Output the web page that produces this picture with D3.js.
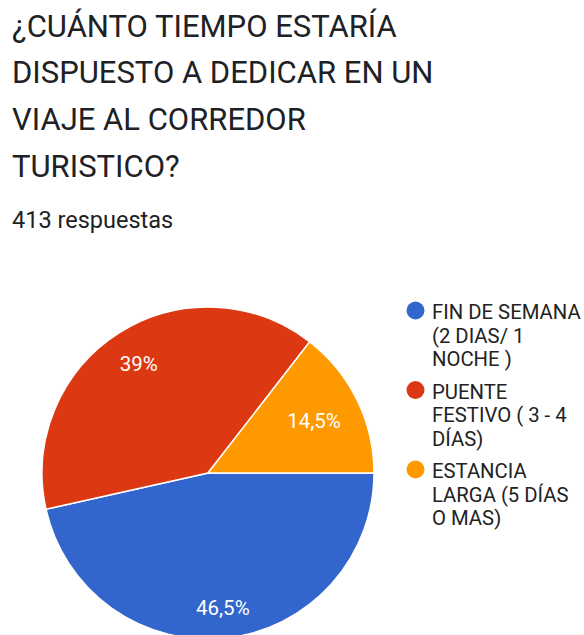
<!DOCTYPE html>
<html>
<head>
<meta charset="utf-8">
<script src="https://cdn.jsdelivr.net/npm/d3@7"></script>
<style>
  html, body { margin: 0; padding: 0; background: #fff; }
  svg { display: block; font-family: Roboto, "Noto Sans", Arial, sans-serif; }
</style>
</head>
<body>
<svg id="chart" width="584" height="635"></svg>
<script>
// Survey question and answer data
const titleLines = [
  "¿CUÁNTO TIEMPO ESTARÍA",
  "DISPUESTO A DEDICAR EN UN",
  "VIAJE AL CORREDOR",
  "TURISTICO?"
];
const responseCount = "413 respuestas";
const categories = [
  ["FIN DE SEMANA", "(2 DIAS/ 1", "NOCHE )"],
  ["PUENTE", "FESTIVO ( 3 - 4", "DÍAS)"],
  ["ESTANCIA", "LARGA (5 DÍAS", "O MAS)"]
];
const values = [46.5, 39, 14.5];
const sliceLabels = ["46,5%", "39%", "14,5%"];
const colors = ["#3366cc", "#dc3912", "#ff9900"];

const svg = d3.select("#chart");

// Title
svg.append("g")
  .selectAll("text")
  .data(titleLines)
  .join("text")
  .attr("x", 12)
  .attr("y", (d, i) => 36.5 + i * 46.7)
  .attr("fill", "#202124")
  .style("font-size", "31px")
  .text(d => d);

svg.append("text")
  .attr("x", 12)
  .attr("y", 228)
  .attr("fill", "#202124")
  .style("font-size", "23.5px")
  .text(responseCount);

// Pie, first slice starting at 3 o'clock and running clockwise
const cx = 208, cy = 473, R = 166;
const color = d3.scaleOrdinal().domain(d3.range(values.length)).range(colors);
const pie = d3.pie().sort(null).startAngle(Math.PI / 2).endAngle(Math.PI / 2 + 2 * Math.PI);
const arcs = pie(values);
const arc = d3.arc().innerRadius(0).outerRadius(R);

const g = svg.append("g").attr("transform", `translate(${cx},${cy})`);
g.selectAll("path")
  .data(arcs)
  .join("path")
  .attr("d", arc)
  .attr("fill", (d, i) => color(i))
  .attr("stroke", "#fff")
  .attr("stroke-width", 1.5);

// Percentage labels: the text box is pulled in so its outer corner sits on a fixed radius
const capH = 14;
const labels = g.selectAll("text")
  .data(arcs)
  .join("text")
  .attr("text-anchor", "middle")
  .attr("dy", "0.35em")
  .attr("fill", "#fff")
  .style("font-size", "20.5px")
  .text((d, i) => sliceLabels[i]);

labels.attr("transform", function(d) {
  const w = this.getComputedTextLength();
  const a = (d.startAngle + d.endAngle) / 2;
  const s = Math.sin(a), c = Math.cos(a);
  const r = R * 0.875 - (w / 2) * Math.abs(s) - (capH / 2) * Math.abs(c);
  return `translate(${r * s},${-r * c})`;
});

// Legend
const item = svg.append("g")
  .selectAll("g")
  .data(categories)
  .join("g")
  .attr("transform", (d, i) => `translate(0,${319 + i * 79.5})`);

item.append("circle")
  .attr("cx", 415.5)
  .attr("cy", -8.5)
  .attr("r", 9)
  .attr("fill", (d, i) => color(i));

item.append("text")
  .attr("fill", "#222")
  .style("font-size", "20.3px")
  .selectAll("tspan")
  .data(d => d)
  .join("tspan")
  .attr("x", 432)
  .attr("y", (d, j) => j * 23.5)
  .text(d => d);
</script>
</body>
</html>
